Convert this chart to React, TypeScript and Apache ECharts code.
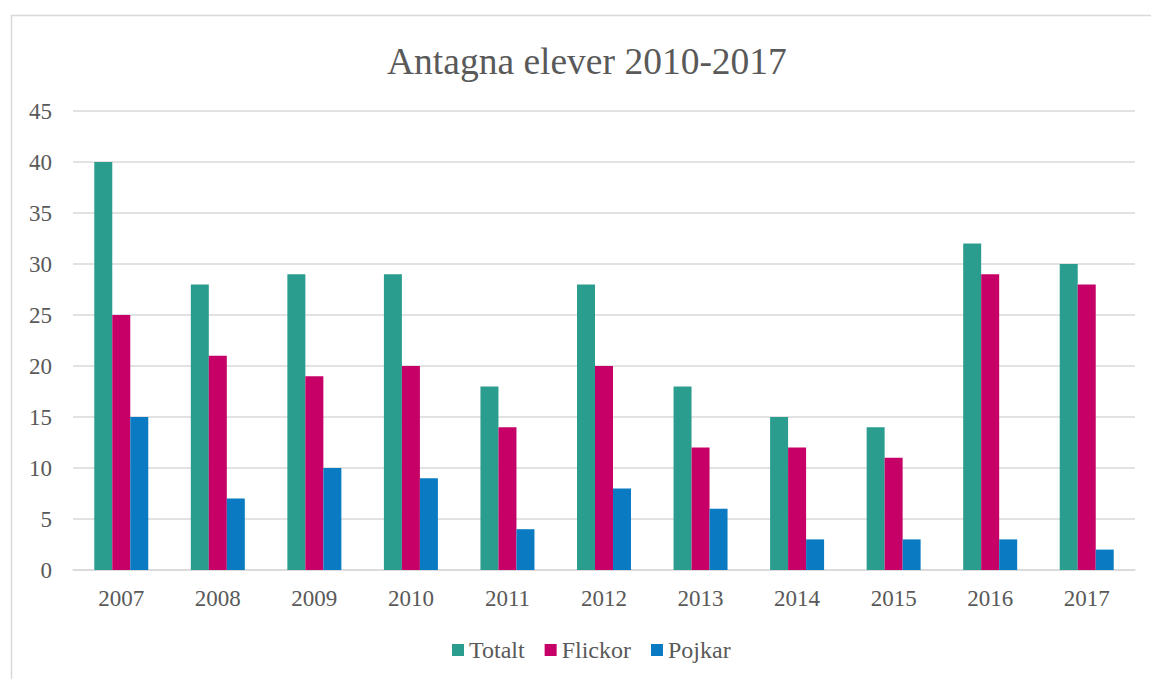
import React, { useEffect, useRef } from "react";
import * as echarts from "echarts";

const categories = ["2007", "2008", "2009", "2010", "2011", "2012", "2013", "2014", "2015", "2016", "2017"];
const totalt = [40, 28, 29, 29, 18, 28, 18, 15, 14, 32, 30];
const flickor = [25, 21, 19, 20, 14, 20, 12, 12, 11, 29, 28];
const pojkar = [15, 7, 10, 9, 4, 8, 6, 3, 3, 3, 2];

const FONT = "'Liberation Serif', 'Times New Roman', serif";
const TXT = "#595959";

export default function App() {
  const ref = useRef<HTMLDivElement>(null);
  useEffect(() => {
    const chart = echarts.init(ref.current!, null, { renderer: "svg" });
    chart.setOption({
      animation: false,
      backgroundColor: "#ffffff",
      title: {
        text: "Antagna elever 2010-2017",
        left: 382,
        top: 37,
        textStyle: { fontFamily: FONT, fontSize: 37.5, fontWeight: "normal", color: TXT },
      },
      graphic: [
        {
          type: "rect",
          shape: { x: 11.5, y: 15.5, width: 1200, height: 700 },
          style: { fill: "none", stroke: "#d9d9d9", lineWidth: 1.5 },
          silent: true,
        },
      ],
      legend: {
        bottom: 12,
        left: 447,
        itemWidth: 12,
        itemHeight: 12,
        itemGap: 20,
        icon: "rect",
        textStyle: { fontFamily: FONT, fontSize: 24, color: TXT },
        data: ["Totalt", "Flickor", "Pojkar"],
      },
      grid: { left: 73, right: 16, top: 111, bottom: 109 },
      xAxis: {
        type: "category",
        data: categories,
        axisLine: { lineStyle: { color: "#d9d9d9", width: 1.5 } },
        axisTick: { show: false },
        axisLabel: { fontFamily: FONT, fontSize: 23, color: TXT, margin: 17 },
      },
      yAxis: {
        type: "value",
        min: 0,
        max: 45,
        interval: 5,
        axisLine: { show: false },
        axisTick: { show: false },
        axisLabel: { fontFamily: FONT, fontSize: 23, color: TXT, margin: 21 },
        splitLine: { lineStyle: { color: "#d9d9d9", width: 1.5 } },
      },
      series: [
        { name: "Totalt", type: "bar", data: totalt, barWidth: 18, barGap: "0%", itemStyle: { color: "#2A9D8F" } },
        { name: "Flickor", type: "bar", data: flickor, barWidth: 18, barGap: "0%", itemStyle: { color: "#C70067" } },
        { name: "Pojkar", type: "bar", data: pojkar, barWidth: 18, barGap: "0%", itemStyle: { color: "#0A7BC2" } },
      ],
    });
    return () => chart.dispose();
  }, []);
  return <div ref={ref} style={{ position: "absolute", left: 0, top: 0, width: 1151, height: 679 }} />;
}
